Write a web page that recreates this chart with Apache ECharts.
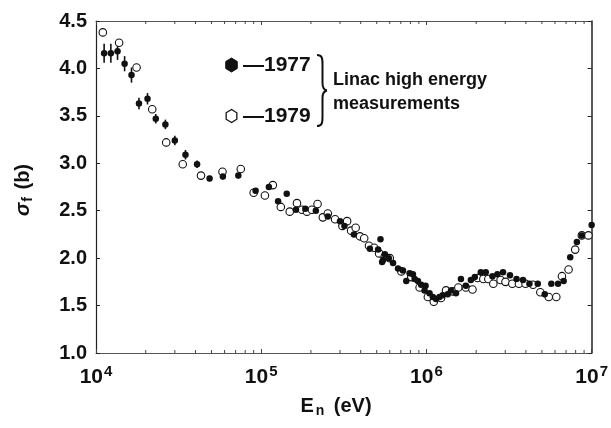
<!DOCTYPE html>
<html>
<head>
<meta charset="utf-8">
<script src="https://cdn.jsdelivr.net/npm/echarts@6/dist/echarts.min.js"></script>
<style>
html,body{margin:0;padding:0;background:#fff;}
#chart{width:611px;height:428px;}
</style>
</head>
<body>
<div id="chart"></div>
<script>
// ---- Data ----
const energy1977 = [1.12e4,1.23e4,1.35e4,1.49e4,1.64e4,1.82e4,2.05e4,2.30e4,2.63e4,3.00e4,3.48e4,4.09e4,4.87e4,5.86e4,7.27e4,9.25e4,
  1.113e5,1.265e5,1.427e5,1.623e5,1.849e5,2.141e5,2.53e5,3.00e5,3.19e5,3.64e5,4.55e5,5.10e5,5.27e5,5.39e5,5.47e5,5.60e5,5.92e5,6.28e5,6.73e5,7.21e5,7.55e5,7.91e5,8.28e5,8.48e5,8.88e5,9.29e5,9.74e5,9.88e5,
  1.044e6,1.093e6,1.144e6,1.199e6,1.255e6,1.345e6,1.408e6,1.509e6,1.617e6,1.733e6,1.857e6,1.963e6,2.133e6,2.286e6,2.508e6,2.688e6,2.908e6,3.203e6,3.51e6,3.84e6,4.20e6,4.72e6,5.20e6,5.70e6,6.26e6,6.77e6,7.42e6,8.14e6,8.72e6,1.0e7];
const sigma1977 = [4.16,4.16,4.18,4.05,3.93,3.63,3.68,3.47,3.41,3.24,3.09,2.99,2.84,2.86,2.87,2.71,
  2.75,2.60,2.68,2.51,2.52,2.50,2.44,2.39,2.34,2.25,2.10,2.09,2.20,1.96,1.98,2.04,2.00,1.95,1.89,1.87,1.76,1.84,1.83,1.78,1.76,1.72,1.66,1.71,
  1.63,1.59,1.57,1.59,1.61,1.62,1.66,1.63,1.78,1.71,1.77,1.80,1.85,1.85,1.81,1.83,1.85,1.82,1.78,1.77,1.73,1.73,1.62,1.73,1.73,1.76,2.01,2.17,2.24,2.35];
const error1977 = [0.10,0.10,0.09,0.08,0.08,0.06,0.06,0.05,0.05,0.05,0.05,0.04,0.03,0.03,0.03];

const energy1979 = [1.10e4,1.38e4,1.76e4,2.19e4,2.66e4,3.35e4,4.32e4,5.83e4,7.52e4,9.00e4,
  1.053e5,1.176e5,1.314e5,1.488e5,1.646e5,1.765e5,1.891e5,2.026e5,2.193e5,2.36e5,2.53e5,2.80e5,3.10e5,3.31e5,3.50e5,3.73e5,3.96e5,4.20e5,4.49e5,4.83e5,5.17e5,5.60e5,6.00e5,7.05e5,8.09e5,9.09e5,
  1.02e6,1.108e6,1.226e6,1.314e6,1.441e6,1.56e6,1.733e6,1.90e6,2.04e6,2.21e6,2.37e6,2.54e6,2.81e6,3.01e6,3.31e6,3.63e6,3.98e6,4.42e6,4.89e6,5.50e6,6.11e6,6.61e6,7.25e6,7.95e6,8.72e6,9.56e6];
const sigma1979 = [4.38,4.27,4.01,3.57,3.22,2.99,2.87,2.91,2.94,2.69,
  2.66,2.77,2.54,2.49,2.58,2.51,2.49,2.51,2.57,2.43,2.47,2.41,2.34,2.39,2.29,2.32,2.23,2.21,2.13,2.11,2.05,2.02,2.00,1.86,1.80,1.69,
  1.59,1.54,1.58,1.66,1.65,1.69,1.69,1.67,1.79,1.78,1.78,1.73,1.77,1.75,1.73,1.73,1.73,1.72,1.64,1.59,1.59,1.81,1.88,2.09,2.24,2.24];

const xMin = 1e4, xMax = 1e7;
const yMin = 1.0, yMax = 4.5, yStep = 0.5;
const minorTickValues = [2e4,3e4,4e4,5e4,6e4,7e4,8e4,9e4,2e5,3e5,4e5,5e5,6e5,7e5,8e5,9e5,2e6,3e6,4e6,5e6,6e6,7e6,8e6,9e6];

const FONT = '"Liberation Sans", Arial, Helvetica, sans-serif';
const INK = '#111';

const pts1977 = energy1977.map((e, i) => [e, sigma1977[i]]);
const pts1979 = energy1979.map((e, i) => [e, sigma1979[i]]);
const errData = error1977.map((er, i) => [energy1977[i], sigma1977[i], er]);

function hexPoints(cx, cy, r) {
  const pts = [];
  for (let i = 0; i < 6; i++) {
    const a = Math.PI / 2 + i * Math.PI / 3;
    pts.push([cx + r * Math.cos(a) * 0.95, cy + r * Math.sin(a)]);
  }
  return pts;
}

const chart = echarts.init(document.getElementById('chart'), null, {renderer: 'canvas'});

const xLabelRich = {
  b: {fontFamily: FONT, fontSize: 21, fontWeight: 'bold', color: INK, lineHeight: 24, verticalAlign: 'bottom'},
  s: {fontFamily: FONT, fontSize: 15, fontWeight: 'bold', color: INK, lineHeight: 24, verticalAlign: 'top', padding: [0, 0, 8, 1]}
};

const braceStyle = {fill: 'none', stroke: INK, lineWidth: 2};

const option = {
  animation: false,
  backgroundColor: '#fff',
  grid: {left: 96, right: 16, top: 21, bottom: 75, containLabel: false},
  xAxis: [{
    type: 'log', logBase: 10, min: xMin, max: xMax, interval: 1,
    axisLine: {show: true, lineStyle: {color: '#555', width: 1}},
    axisTick: {show: true, inside: true, length: 4, lineStyle: {color: '#444'}},
    splitLine: {show: false},
    axisLabel: {
      margin: 11,
      formatter: function (v) { return '{b|10}{s|' + Math.round(Math.log10(v)) + '}'; },
      rich: xLabelRich
    }
  }, {
    type: 'log', logBase: 10, min: xMin, max: xMax, interval: 1, position: 'top',
    axisLine: {show: true, lineStyle: {color: '#555', width: 1}},
    axisTick: {show: true, inside: true, length: 4, lineStyle: {color: '#444'}},
    axisLabel: {show: false}, splitLine: {show: false}
  }],
  yAxis: [{
    type: 'value', min: yMin, max: yMax, interval: yStep,
    axisLine: {show: true, lineStyle: {color: '#222', width: 1.2}},
    axisTick: {show: true, inside: true, length: 4, lineStyle: {color: '#222'}},
    splitLine: {show: false},
    axisLabel: {margin: 9, fontFamily: FONT, fontSize: 20, fontWeight: 'bold', color: INK,
      formatter: v => v.toFixed(1)}
  }, {
    type: 'value', min: yMin, max: yMax, interval: yStep, position: 'right',
    axisLine: {show: true, lineStyle: {color: '#222', width: 1.5}},
    axisTick: {show: true, inside: true, length: 4, lineStyle: {color: '#222'}},
    axisLabel: {show: false}, splitLine: {show: false}
  }],
  series: [{
    name: 'minor ticks',
    type: 'custom',
    xAxisIndex: 0, yAxisIndex: 0,
    data: minorTickValues.map(v => [v]),
    silent: true,
    renderItem: function (params, api) {
      const v = api.value(0);
      const b = api.coord([v, yMin]);
      const t = api.coord([v, yMax]);
      return {type: 'group', children: [
        {type: 'line', shape: {x1: b[0], y1: b[1], x2: b[0], y2: b[1] - 3}, style: {stroke: '#444', lineWidth: 1}},
        {type: 'line', shape: {x1: t[0], y1: t[1], x2: t[0], y2: t[1] + 3}, style: {stroke: '#444', lineWidth: 1}}
      ]};
    },
    z: 1
  }, {
    name: 'error bars',
    type: 'custom',
    xAxisIndex: 0, yAxisIndex: 0,
    data: errData,
    silent: true,
    renderItem: function (params, api) {
      const x = api.value(0), y = api.value(1), e = api.value(2);
      const p1 = api.coord([x, y - e]);
      const p2 = api.coord([x, y + e]);
      return {type: 'line', shape: {x1: p1[0], y1: p1[1], x2: p2[0], y2: p2[1]},
        style: {stroke: INK, lineWidth: 1.6}};
    },
    z: 2
  }, {
    name: '1979',
    type: 'scatter',
    xAxisIndex: 0, yAxisIndex: 0,
    data: pts1979,
    symbol: 'circle', symbolSize: 7.5,
    itemStyle: {color: '#fff', borderColor: INK, borderWidth: 1.1, opacity: 1},
    z: 3
  }, {
    name: '1977',
    type: 'scatter',
    xAxisIndex: 0, yAxisIndex: 0,
    data: pts1977,
    symbol: 'circle', symbolSize: 6.5,
    itemStyle: {color: INK, opacity: 1},
    z: 4
  }],
  graphic: [
    {type: 'polygon', shape: {points: hexPoints(231.5, 65, 7)}, style: {fill: INK, stroke: INK, lineWidth: 1}},
    {type: 'polygon', shape: {points: hexPoints(231.5, 116, 6.5)}, style: {fill: '#fff', stroke: INK, lineWidth: 1.3}},
    {type: 'text', x: 243, y: 65, style: {text: '\u20141977', font: 'bold 21px ' + FONT, fill: INK, verticalAlign: 'middle'}},
    {type: 'text', x: 243, y: 116, style: {text: '\u20141979', font: 'bold 21px ' + FONT, fill: INK, verticalAlign: 'middle'}},
    {type: 'bezierCurve', shape: {x1: 317, y1: 55, cpx1: 322, cpy1: 55, cpx2: 322.5, cpy2: 58, x2: 322.5, y2: 64}, style: braceStyle},
    {type: 'line', shape: {x1: 322.5, y1: 64, x2: 322.5, y2: 83}, style: braceStyle},
    {type: 'bezierCurve', shape: {x1: 322.5, y1: 83, cpx1: 322.5, cpy1: 88, cpx2: 324, cpy2: 90, x2: 327, y2: 90.5}, style: braceStyle},
    {type: 'bezierCurve', shape: {x1: 327, y1: 90.5, cpx1: 324, cpy1: 91, cpx2: 322.5, cpy2: 93, x2: 322.5, y2: 98}, style: braceStyle},
    {type: 'line', shape: {x1: 322.5, y1: 98, x2: 322.5, y2: 117}, style: braceStyle},
    {type: 'bezierCurve', shape: {x1: 322.5, y1: 117, cpx1: 322.5, cpy1: 123, cpx2: 322, cpy2: 126, x2: 317, y2: 126}, style: braceStyle},
    {type: 'text', x: 333, y: 80, style: {text: 'Linac high energy', font: 'bold 18px ' + FONT, fill: INK, verticalAlign: 'middle'}},
    {type: 'text', x: 333, y: 104, style: {text: 'measurements', font: 'bold 18px ' + FONT, fill: INK, verticalAlign: 'middle'}},
    {type: 'text', x: 24, y: 190, rotation: Math.PI / 2,
      style: {text: '{g|\u03c3}{sub|f}{n| (b)}', align: 'center', verticalAlign: 'middle',
        rich: {
          g: {font: 'italic bold 20px ' + FONT, fill: INK, lineHeight: 22, verticalAlign: 'top'},
          sub: {font: 'bold 14px ' + FONT, fill: INK, lineHeight: 14, verticalAlign: 'bottom', padding: [6, 2, 0, 1]},
          n: {font: 'bold 20px ' + FONT, fill: INK, lineHeight: 22, verticalAlign: 'top'}
        }}},
    {type: 'text', x: 336, y: 407,
      style: {text: '{n|E}{sub|n}{n| (eV)}', align: 'center', verticalAlign: 'middle',
        rich: {
          n: {font: 'bold 20px ' + FONT, fill: INK, lineHeight: 22, verticalAlign: 'top'},
          sub: {font: 'bold 14px ' + FONT, fill: INK, lineHeight: 14, verticalAlign: 'bottom', padding: [8, 4, 0, 2]}
        }}}
  ]
};

chart.setOption(option);
</script>
</body>
</html>
